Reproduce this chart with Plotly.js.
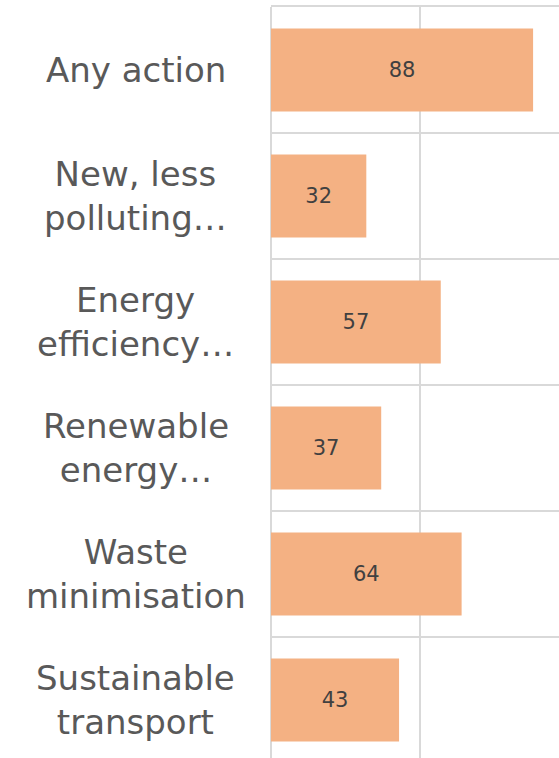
<!DOCTYPE html>
<html>
<head>
<meta charset="utf-8">
<script src="https://cdn.plot.ly/plotly-3.0.1.min.js"></script>
<style>
html,body{margin:0;padding:0;overflow:hidden;background:#fff;}
#chart{width:559px;height:763px;}
</style>
</head>
<body>
<div id="chart"></div>
<script>
const categories = ["Any action", "New, less polluting…", "Energy efficiency…", "Renewable energy…", "Waste minimisation", "Sustainable transport"];
const labelLines = ["Any action", "New, less<br>polluting…", "Energy<br>efficiency…", "Renewable<br>energy…", "Waste<br>minimisation", "Sustainable<br>transport"];
const values = [88, 32, 57, 37, 64, 43];

const trace = {
  type: 'bar',
  orientation: 'h',
  y: categories,
  x: values,
  text: values.map(String),
  textposition: 'inside',
  insidetextanchor: 'middle',
  textfont: {family: 'DejaVu Sans', size: 21, color: '#404040'},
  marker: {color: '#F4B183'},
  hoverinfo: 'none',
  cliponaxis: false
};

const annotations = categories.map((c, i) => ({
  xref: 'paper', yref: 'y',
  x: -0.47, y: c,
  xanchor: 'center', yanchor: 'middle',
  align: 'center',
  text: labelLines[i],
  showarrow: false,
  font: {family: 'DejaVu Sans', size: 34, color: '#595959'}
}));

const layout = {
  width: 559, height: 763,
  margin: {l: 271, r: 0, t: 7, b: 0, pad: 0},
  paper_bgcolor: '#ffffff',
  plot_bgcolor: '#ffffff',
  showlegend: false,
  bargap: 0.34,
  xaxis: {
    side: 'top',
    range: [0, 96.7],
    dtick: 50, tick0: 0,
    showgrid: true, gridcolor: '#D9D9D9', gridwidth: 2,
    zeroline: true, zerolinecolor: '#D9D9D9', zerolinewidth: 2,
    showline: true, linecolor: '#D9D9D9', linewidth: 2,
    showticklabels: false, ticks: '', fixedrange: true
  },
  yaxis: {
    type: 'category',
    autorange: 'reversed',
    tickson: 'boundaries',
    showgrid: true, gridcolor: '#D9D9D9', gridwidth: 2,
    showticklabels: false, ticks: '', showline: false, zeroline: false, fixedrange: true
  },
  annotations: annotations
};

Plotly.newPlot('chart', [trace], layout, {displayModeBar: false, staticPlot: true});
</script>
</body>
</html>
